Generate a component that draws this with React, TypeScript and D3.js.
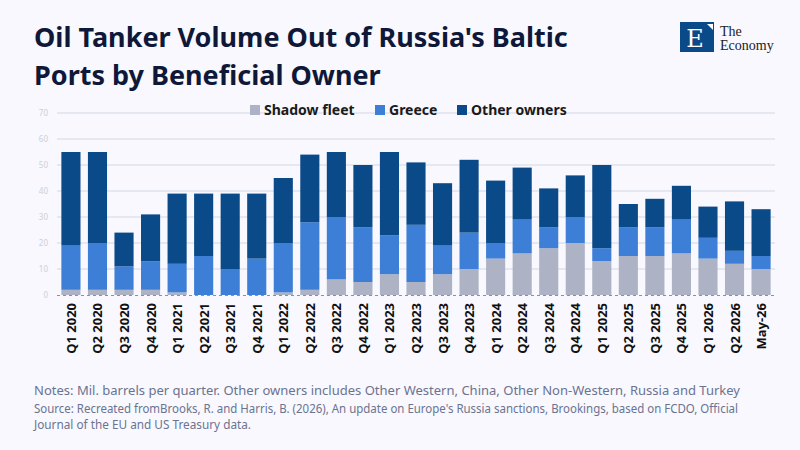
import React, { useEffect, useRef } from 'react';
import * as d3 from 'd3';

const quarters = [
  'Q1 2020', 'Q2 2020', 'Q3 2020', 'Q4 2020',
  'Q1 2021', 'Q2 2021', 'Q3 2021', 'Q4 2021',
  'Q1 2022', 'Q2 2022', 'Q3 2022', 'Q4 2022',
  'Q1 2023', 'Q2 2023', 'Q3 2023', 'Q4 2023',
  'Q1 2024', 'Q2 2024', 'Q3 2024', 'Q4 2024',
  'Q1 2025', 'Q2 2025', 'Q3 2025', 'Q4 2025',
  'Q1 2026', 'Q2 2026', 'May-26',
];

// mil. barrels per quarter
const shadowFleet = [2, 2, 2, 2, 1, 0, 0, 0, 1, 2, 6, 5, 8, 5, 8, 10, 14, 16, 18, 20, 13, 15, 15, 16, 14, 12, 10];
const greece = [17, 18, 9, 11, 11, 15, 10, 14, 19, 26, 24, 21, 15, 22, 11, 14, 6, 13, 8, 10, 5, 11, 11, 13, 8, 5, 5];
const otherOwners = [36, 35, 13, 18, 27, 24, 29, 25, 25, 26, 25, 24, 32, 24, 24, 28, 24, 20, 15, 16, 32, 9, 11, 13, 12, 19, 18];

const seriesKeys = ['shadow', 'greece', 'other'];
const seriesNames = ['Shadow fleet', 'Greece', 'Other owners'];
const seriesColors = ['#adb3c4', '#3d7fd6', '#0b4a89'];
const yTicks = [0, 10, 20, 30, 40, 50, 60, 70];

const App: React.FC = () => {
  const svgRef = useRef<SVGSVGElement>(null);

  useEffect(() => {
    if (!svgRef.current) return;
    const svg = d3.select(svgRef.current);
    svg.selectAll('*').remove();

    const W = 800, H = 450;
    const left = 57, right = 775, top = 113, bottom = 295;

    svg.append('rect').attr('width', W).attr('height', H).attr('fill', '#f8f8fe');

    // title
    const title = svg.append('text')
      .attr('font-family', '"Noto Sans", sans-serif')
      .attr('font-weight', 700)
      .attr('font-size', 27)
      .attr('fill', '#0f1838');
    title.append('tspan').attr('x', 34).attr('y', 47).text("Oil Tanker Volume Out of Russia's Baltic");
    title.append('tspan').attr('x', 34).attr('y', 85).text('Ports by Beneficial Owner');

    // logo
    const logo = svg.append('g');
    logo.append('rect').attr('x', 680).attr('y', 22).attr('width', 34).attr('height', 30).attr('fill', '#0b4a89');
    logo.append('path').attr('d', 'M707,24 L713,24 L713,30 Z').attr('fill', '#ffffff');
    logo.append('text').attr('x', 695).attr('y', 47).attr('text-anchor', 'middle')
      .attr('font-family', '"DejaVu Serif", "Liberation Serif", serif').attr('font-size', 24)
      .attr('fill', '#ffffff').text('E');
    logo.append('text').attr('x', 720).attr('y', 36)
      .attr('font-family', '"Liberation Serif", serif').attr('font-size', 14).attr('fill', '#222')
      .text('The');
    logo.append('text').attr('x', 720).attr('y', 50)
      .attr('font-family', '"Liberation Serif", serif').attr('font-size', 14).attr('fill', '#222')
      .text('Economy');

    const x = d3.scaleBand<string>()
      .domain(quarters)
      .range([left, right])
      .paddingInner(0.28)
      .paddingOuter(0.165);

    const y = d3.scaleLinear().domain([0, 70]).range([bottom, top]);

    // grid + y ticks
    const grid = svg.append('g');
    grid.selectAll('line')
      .data(yTicks.filter(t => t > 0))
      .enter().append('line')
      .attr('x1', left).attr('x2', right)
      .attr('y1', d => y(d)).attr('y2', d => y(d))
      .attr('stroke', '#d3d8e2').attr('stroke-width', 1);
    grid.selectAll('text')
      .data(yTicks)
      .enter().append('text')
      .attr('x', 48).attr('y', d => y(d) + 3)
      .attr('text-anchor', 'end')
      .attr('font-family', '"Noto Sans", sans-serif')
      .attr('font-size', 8)
      .attr('fill', '#c9d0dc')
      .text(d => d);

    const rows = quarters.map((q, i) => ({
      q, shadow: shadowFleet[i], greece: greece[i], other: otherOwners[i],
    }));
    const stacked = d3.stack<any>().keys(seriesKeys)(rows);

    svg.append('g').selectAll('g')
      .data(stacked)
      .enter().append('g')
      .attr('fill', (_d, i) => seriesColors[i])
      .selectAll('rect')
      .data(d => d)
      .enter().append('rect')
      .attr('x', d => x(d.data.q) as number)
      .attr('width', x.bandwidth())
      .attr('y', d => y(d[1]))
      .attr('height', d => y(d[0]) - y(d[1]));

    // dashed baseline
    svg.append('line')
      .attr('x1', left).attr('x2', right)
      .attr('y1', bottom + 0.5).attr('y2', bottom + 0.5)
      .attr('stroke', '#8a90a0').attr('stroke-dasharray', '3,3');

    // x labels
    svg.append('g').selectAll('text')
      .data(quarters)
      .enter().append('text')
      .attr('transform', d => `translate(${(x(d) as number) + x.bandwidth() / 2 + 5},303) rotate(-90)`)
      .attr('text-anchor', 'end')
      .attr('font-family', '"Noto Sans", sans-serif')
      .attr('font-weight', 700)
      .attr('font-size', 13)
      .attr('fill', '#111')
      .text(d => d);

    // legend
    const legendX = [250, 375, 457];
    const legend = svg.append('g');
    seriesNames.forEach((name, i) => {
      legend.append('rect').attr('x', legendX[i]).attr('y', 105).attr('width', 10).attr('height', 10)
        .attr('fill', seriesColors[i]);
      legend.append('text').attr('x', legendX[i] + 14).attr('y', 115)
        .attr('font-family', '"Noto Sans", sans-serif')
        .attr('font-weight', 700).attr('font-size', 14).attr('fill', '#1a1a1a')
        .text(name);
    });

    // notes
    const noteFont = '"Noto Sans", sans-serif';
    svg.append('text').attr('x', 34).attr('y', 395)
      .attr('font-family', noteFont).attr('font-size', 13).attr('fill', '#6b7390')
      .attr('textLength', 706).attr('lengthAdjust', 'spacingAndGlyphs')
      .text('Notes: Mil. barrels per quarter. Other owners includes Other Western, China, Other Non-Western, Russia and Turkey');
    svg.append('text').attr('x', 34).attr('y', 413)
      .attr('font-family', noteFont).attr('font-size', 12).attr('fill', '#6b7390')
      .attr('textLength', 704).attr('lengthAdjust', 'spacingAndGlyphs')
      .text("Source: Recreated fromBrooks, R. and Harris, B. (2026), An update on Europe's Russia sanctions, Brookings, based on FCDO, Official");
    svg.append('text').attr('x', 34).attr('y', 429)
      .attr('font-family', noteFont).attr('font-size', 12).attr('fill', '#6b7390')
      .attr('textLength', 217).attr('lengthAdjust', 'spacingAndGlyphs')
      .text('Journal of the EU and US Treasury data.');
  }, []);

  return (
    <div style={{ position: 'absolute', left: 0, top: 0, width: 800, height: 450 }}>
      <svg ref={svgRef} width={800} height={450} />
    </div>
  );
};

export default App;
